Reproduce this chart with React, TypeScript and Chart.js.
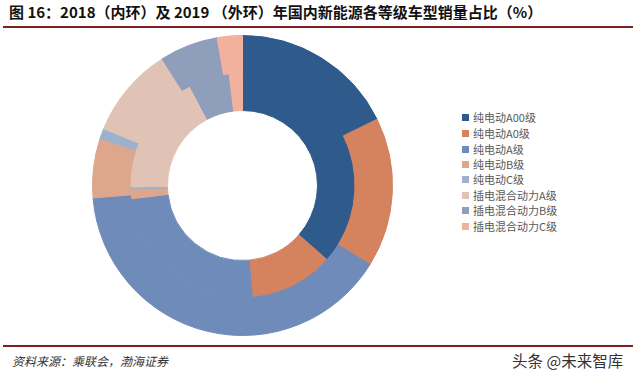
import React, { useEffect, useRef } from "react";
import { Chart, registerables } from "chart.js";

Chart.register(...registerables);

const title = "图 16：2018（内环）及 2019 （外环）年国内新能源各等级车型销量占比（%）";
const source = "资料来源：乘联会，渤海证券";
const watermark = "头条 @未来智库";

const categories = [
  "纯电动A00级",
  "纯电动A0级",
  "纯电动A级",
  "纯电动B级",
  "纯电动C级",
  "插电混合动力A级",
  "插电混合动力B级",
  "插电混合动力C级",
];
const share2019 = [17.7, 16.1, 39.8, 6.4, 1.1, 9.8, 6.3, 2.7];
const share2018 = [36.6, 12.2, 24.6, 1.4, 0.3, 17.5, 5.9, 1.9];
const colors = [
  "#2F5A8C",
  "#D5825F",
  "#6E8BBA",
  "#DDA68D",
  "#9DB0CC",
  "#E1C3B5",
  "#8E9EBB",
  "#F2B19D",
];

export default function App() {
  const ref = useRef<HTMLCanvasElement>(null);
  useEffect(() => {
    const chart = new Chart(ref.current!, {
      type: "doughnut",
      data: {
        labels: categories,
        datasets: [
          { label: "2019", data: share2019, backgroundColor: colors, borderColor: colors, borderWidth: 1 },
          { label: "2018", data: share2018, backgroundColor: colors, borderColor: colors, borderWidth: 1 },
        ],
      },
      options: {
        animation: false,
        responsive: false,
        cutout: "50%",
        layout: { padding: 0 },
        plugins: { legend: { display: false }, tooltip: { enabled: false } },
      },
    });
    return () => chart.destroy();
  }, []);

  const font = '"Noto Sans CJK SC", "Noto Sans", sans-serif';
  return (
    <div
      style={{
        position: "fixed",
        left: 0,
        top: 0,
        width: 640,
        height: 378,
        background: "#fff",
        fontFamily: font,
        overflow: "hidden",
      }}
    >
      <div
        style={{
          position: "absolute",
          left: 9,
          top: 2,
          fontSize: 15,
          fontWeight: 700,
          color: "#111",
          whiteSpace: "nowrap",
          lineHeight: "20px",
        }}
      >
        {title}
      </div>
      <div style={{ position: "absolute", left: 3, top: 26, width: 630, height: 2, background: "#7E1F22" }} />
      <canvas
        ref={ref}
        width={301}
        height={301}
        style={{ position: "absolute", left: 92, top: 35, width: 301, height: 301 }}
      />
      {categories.map((c, i) => (
        <div
          key={c}
          style={{
            position: "absolute",
            left: 462,
            top: [117, 133, 149, 164, 179, 195, 210, 226][i] - 8,
            height: 16,
            display: "flex",
            alignItems: "center",
            fontSize: 11,
            color: "#595959",
            whiteSpace: "nowrap",
          }}
        >
          <span style={{ width: 7, height: 7, background: colors[i], marginRight: 4, display: "inline-block" }} />
          {c}
        </div>
      ))}
      <div style={{ position: "absolute", left: 3, top: 345, width: 630, height: 2, background: "#7E1F22" }} />
      <div
        style={{
          position: "absolute",
          left: 12,
          top: 352,
          fontSize: 12,
          fontStyle: "italic",
          color: "#333",
          whiteSpace: "nowrap",
        }}
      >
        {source}
      </div>
      <div
        style={{
          position: "absolute",
          left: 512,
          top: 349,
          fontSize: 15.5,
          color: "#333",
          whiteSpace: "nowrap",
        }}
      >
        {watermark}
      </div>
    </div>
  );
}
